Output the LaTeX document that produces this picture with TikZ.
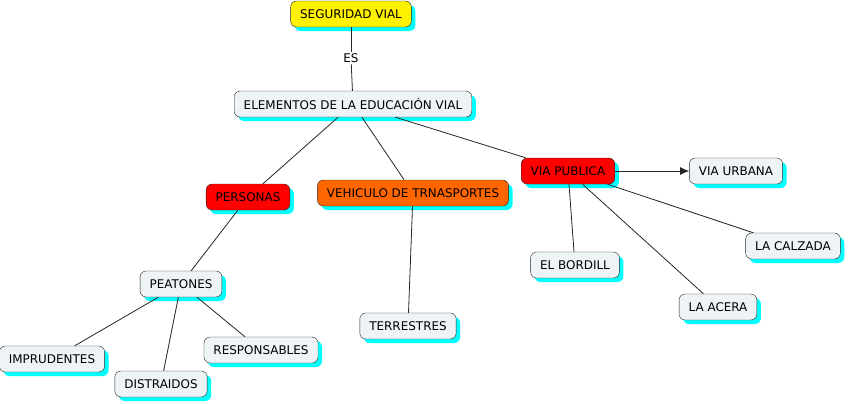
\documentclass[tikz,border=0pt]{standalone}
\usepackage{fontspec}
\setmainfont{DejaVu Sans}
\usetikzlibrary{shadows,arrows.meta}
\definecolor{fondo}{RGB}{238,243,246}
\definecolor{sombra}{RGB}{0,255,255}
\definecolor{naranja}{RGB}{255,102,0}
\tikzset{
  concepto/.style={draw=black!85, rounded corners=6bp, fill=fondo, minimum height=26bp,
    inner xsep=9.5bp, font=\fontsize{12}{14}\selectfont,
    drop shadow={fill=sombra, opacity=1, shadow xshift=4bp, shadow yshift=-4bp}},
  enlace/.style={font=\fontsize{12}{14}\selectfont, fill=white, inner sep=1.5bp},
  linea/.style={draw=black!85, line width=0.8bp}
}
\begin{document}
\begin{tikzpicture}[x=1bp,y=-1bp]
  \useasboundingbox (0,0) rectangle (848,403);
  % conceptos
  \node[concepto, fill=yellow] (seguridad) at (351,14) {SEGURIDAD VIAL};
  \node[enlace] (es) at (351,58) {ES};
  \node[concepto] (elementos) at (353,104) {ELEMENTOS DE LA EDUCACIÓN VIAL};
  \node[concepto, fill=red] (personas) at (248,197) {PERSONAS};
  \node[concepto, fill=naranja] (vehiculo) at (413,193) {VEHICULO DE TRNASPORTES};
  \node[concepto, fill=red] (viapublica) at (568,171) {VIA PUBLICA};
  \node[concepto] (viaurbana) at (736,171) {VIA URBANA};
  \node[concepto] (peatones) at (181,284) {PEATONES};
  \node[concepto] (imprudentes) at (52,359) {IMPRUDENTES};
  \node[concepto] (distraidos) at (161,384) {DISTRAIDOS};
  \node[concepto] (responsables) at (261,350) {RESPONSABLES};
  \node[concepto] (terrestres) at (408,326) {TERRESTRES};
  \node[concepto] (bordill) at (575,265) {EL BORDILL};
  \node[concepto] (acera) at (718,307) {LA ACERA};
  \node[concepto] (calzada) at (793,246) {LA CALZADA};

  % enlaces
  \draw[linea] (seguridad) -- (es);
  \draw[linea] (es) -- (elementos);
  \draw[linea] (elementos) -- (personas);
  \draw[linea] (elementos) -- (vehiculo);
  \draw[linea] (elementos) -- (viapublica);
  \draw[linea,-{Latex[length=9bp,width=8bp]}] (viapublica) -- (viaurbana);
  \draw[linea] (viapublica) -- (bordill);
  \draw[linea] (viapublica) -- (acera);
  \draw[linea] (viapublica) -- (calzada);
  \draw[linea] (personas) -- (peatones);
  \draw[linea] (vehiculo) -- (terrestres);
  \draw[linea] (peatones) -- (imprudentes);
  \draw[linea] (peatones) -- (distraidos);
  \draw[linea] (peatones) -- (responsables);
\end{tikzpicture}
\end{document}
